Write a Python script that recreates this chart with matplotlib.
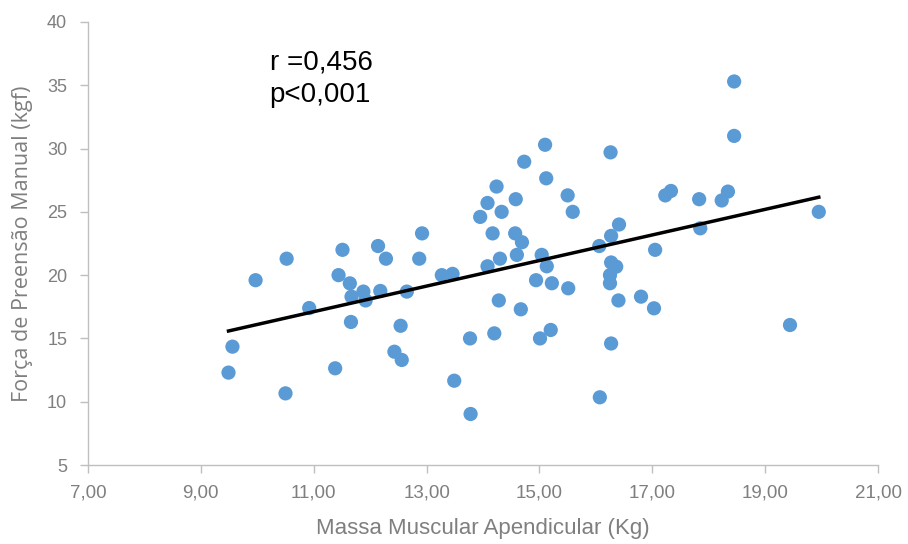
import numpy as np
import matplotlib
matplotlib.use("Agg")
import matplotlib.pyplot as plt

# Massa Muscular Apendicular (Kg) vs Força de Preensão Manual (kgf)
massa = [
    9.97, 10.52, 9.56, 9.49, 10.50, 10.92, 11.51, 11.44, 11.64, 11.67,
    11.88, 11.92, 11.66, 11.38, 12.14, 12.28, 12.18, 12.65, 12.54, 12.43,
    12.56, 12.87, 12.92, 13.27, 13.46, 14.28, 14.67, 15.10, 14.73, 15.12,
    14.24, 14.08, 14.58, 14.33, 13.95, 15.50, 15.59, 14.17, 14.57, 14.69,
    14.30, 14.60, 14.08, 15.04, 15.13, 14.94, 15.22, 15.51, 16.26, 16.41,
    16.27, 16.06, 16.27, 16.36, 16.25, 16.25, 16.40, 16.80, 13.77, 14.20,
    15.01, 15.20, 16.27, 13.49, 13.78, 16.07, 18.45, 17.23, 17.33, 17.83,
    18.23, 18.34, 19.95, 17.85, 17.05, 19.44, 17.03, 18.45,
]
forca = [
    19.6, 21.3, 14.35, 12.3, 10.66, 17.4, 22.0, 20.0, 19.35, 18.3,
    18.7, 18.0, 16.3, 12.64, 22.3, 21.3, 18.75, 18.7, 16.0, 13.95,
    13.3, 21.3, 23.3, 20.0, 20.1, 18.0, 17.3, 30.3, 28.96, 27.65,
    27.0, 25.7, 26.0, 25.0, 24.6, 26.3, 25.0, 23.3, 23.3, 22.6,
    21.3, 21.6, 20.7, 21.6, 20.7, 19.6, 19.36, 18.96, 29.7, 24.0,
    23.1, 22.3, 21.0, 20.67, 20.0, 19.36, 18.0, 18.3, 15.0, 15.4,
    15.0, 15.67, 14.6, 11.66, 9.03, 10.35, 31.0, 26.3, 26.65, 26.0,
    25.9, 26.6, 25.0, 23.7, 22.0, 16.06, 17.38, 35.3,
]

xticks = [7, 9, 11, 13, 15, 17, 19, 21]
yticks = [5, 10, 15, 20, 25, 30, 35, 40]
xticklabels = ["7,00", "9,00", "11,00", "13,00", "15,00", "17,00", "19,00", "21,00"]

grey_axis = "#BFBFBF"
grey_text = "#7F7F7F"

fig = plt.figure(figsize=(9.08, 5.44), dpi=100)
ax = fig.add_axes([0.0969, 0.1452, 0.8701, 0.8144])

ax.scatter(massa, forca, s=105, color="#5B9BD5", edgecolors="none", zorder=3)

# linha de tendência (mínimos quadrados)
a, b = np.polyfit(massa, forca, 1)
xl = np.array([min(massa), max(massa)])
ax.plot(xl, a * xl + b, color="black", linewidth=2.5, zorder=4)

ax.set_xlim(7, 21)
ax.set_ylim(5, 40)
ax.set_xticks(xticks)
ax.set_xticklabels(xticklabels, fontfamily="Liberation Sans", fontsize=13.5, color=grey_text)
ax.set_yticks(yticks)
for lab in ax.get_yticklabels():
    lab.set_fontfamily("Liberation Sans")
    lab.set_fontsize(13)
    lab.set_color(grey_text)

for side in ["top", "right"]:
    ax.spines[side].set_visible(False)
for side in ["left", "bottom"]:
    ax.spines[side].set_color(grey_axis)
    ax.spines[side].set_linewidth(1)
ax.tick_params(axis="both", direction="out", length=6, width=1, color=grey_axis)
ax.tick_params(axis="x", pad=8)
ax.tick_params(axis="y", pad=9)

ax.set_xlabel("Massa Muscular Apendicular (Kg)", fontfamily="Liberation Sans",
              fontsize=16, color=grey_text, labelpad=12)
ax.set_ylabel("Força de Preensão Manual (kgf)", fontfamily="Open Sans",
              fontsize=15.5, color=grey_text, labelpad=10)

ax.text(0.230, 0.937, "r =0,456\np<0,001", transform=ax.transAxes, ha="left", va="top",
        fontfamily="Liberation Sans", fontsize=20, color="black", linespacing=1.3)

fig.savefig("out.png", dpi=100)
